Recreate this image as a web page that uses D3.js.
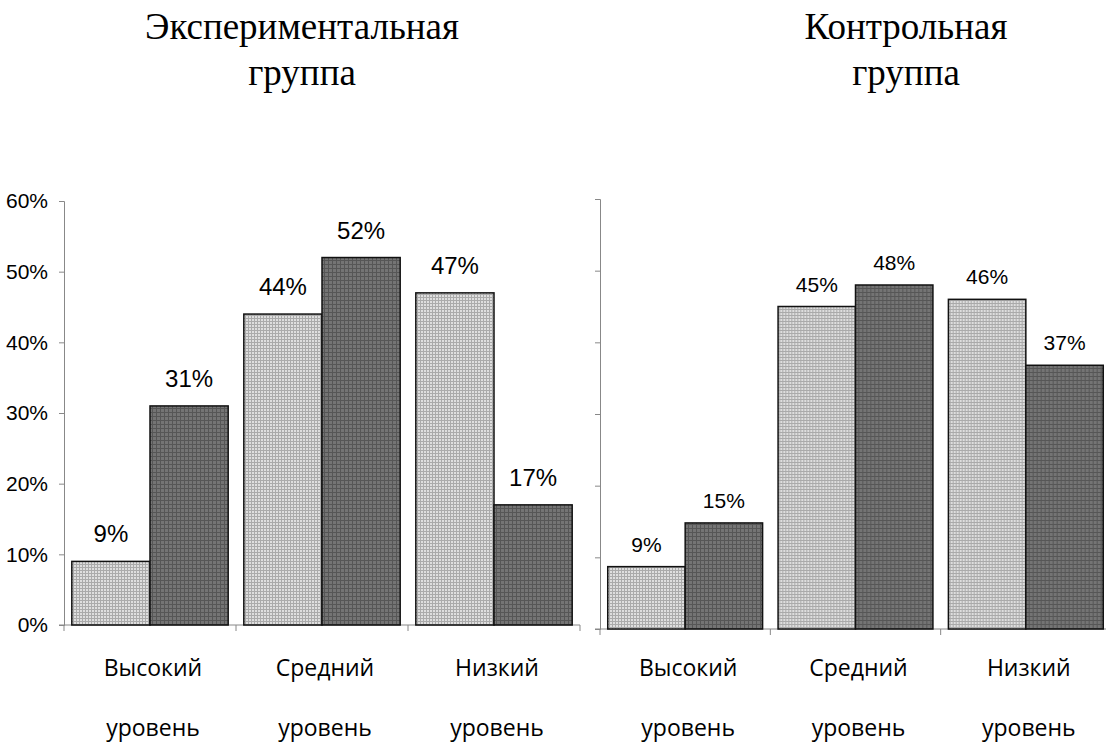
<!DOCTYPE html>
<html>
<head>
<meta charset="utf-8">
<script src="https://cdn.jsdelivr.net/npm/d3@7/dist/d3.min.js"></script>
<style>
  body { margin: 0; background: #fff; }
  .title { font-family: "Liberation Serif", "Times New Roman", serif; font-size: 37px; fill: #000; }
  .tick text { font-family: "Liberation Sans", Arial, sans-serif; font-size: 21px; fill: #000; }
  .cat { font-family: "Open Sans", sans-serif; font-size: 23px; fill: #000; }
  .val { font-family: "Liberation Sans", Arial, sans-serif; fill: #000; }
</style>
</head>
<body>
<script>
// Chart data
var categories = ["Высокий", "Средний", "Низкий"];
var series = ["before", "after"];
var expValues = [[9, 31], [44, 52], [47, 17]];
var ctrlValues = [[8.7, 14.8], [45, 48], [46, 36.8]];
var expLabels = [["9%", "31%"], ["44%", "52%"], ["47%", "17%"]];
var ctrlLabels = [["9%", "15%"], ["45%", "48%"], ["46%", "37%"]];
var yTicks = [0, 10, 20, 30, 40, 50, 60];

var width = 1106,
    height = 745;

var svg = d3.select("body")
    .append("svg")
    .attr("width", width)
    .attr("height", height);

// Fill patterns for the two series
var defs = svg.append("defs");
var light = defs.append("pattern")
    .attr("id", "light")
    .attr("width", 3).attr("height", 3)
    .attr("patternUnits", "userSpaceOnUse");
light.append("rect").attr("width", 3).attr("height", 3).attr("fill", "#dedede");
light.append("rect").attr("width", 1).attr("height", 3).attr("fill", "#aaaaaa");
light.append("rect").attr("width", 3).attr("height", 1).attr("fill", "#aaaaaa");

var dark = defs.append("pattern")
    .attr("id", "dark")
    .attr("width", 4).attr("height", 4)
    .attr("patternUnits", "userSpaceOnUse");
dark.append("rect").attr("width", 4).attr("height", 4).attr("fill", "#747474");
dark.append("rect").attr("width", 1).attr("height", 4).attr("fill", "#565656");
dark.append("rect").attr("width", 4).attr("height", 1).attr("fill", "#565656");

var fills = {before: "url(#light)", after: "url(#dark)"};

drawPanel({
  title: ["Экспериментальная", "группа"],
  titleX: 302,
  values: expValues,
  labels: expLabels,
  x0: 64, x1: 580,
  y0: 625, y1: 201,
  showTicks: true,
  labelSize: 24,
  labelGap: 19
});

drawPanel({
  title: ["Контрольная", "группа"],
  titleX: 906,
  values: ctrlValues,
  labels: ctrlLabels,
  x0: 600, x1: 1111,
  y0: 629, y1: 199,
  showTicks: false,
  labelSize: 21,
  labelGap: 15
});

function drawPanel(p) {
  var g = svg.append("g");

  // Title
  g.append("text").attr("class", "title")
      .attr("x", p.titleX).attr("y", 39)
      .attr("text-anchor", "middle").text(p.title[0]);
  g.append("text").attr("class", "title")
      .attr("x", p.titleX).attr("y", 85)
      .attr("text-anchor", "middle").text(p.title[1]);

  var y = d3.scaleLinear().domain([0, 60]).range([p.y0, p.y1]);
  var x = d3.scaleBand().domain(categories).range([p.x0, p.x1]);
  var xs = d3.scaleBand().domain(series).range([0, x.bandwidth()]).paddingOuter(0.1);

  // Y axis
  var yAxis = g.append("g")
      .attr("transform", "translate(" + p.x0 + ",0)")
      .call(d3.axisLeft(y).tickValues(yTicks).tickSize(5).tickPadding(11)
        .tickFormat(function(d){ return p.showTicks ? d + "%" : ""; }));
  yAxis.selectAll("path, line").attr("stroke", "#888");

  // X axis baseline with category ticks
  var boundaries = categories.map(function(c){ return x(c); }).concat([p.x1]);
  g.append("line")
      .attr("x1", p.x0 - 5).attr("x2", p.x1)
      .attr("y1", y(0)).attr("y2", y(0))
      .attr("stroke", "#888");
  g.selectAll(".xtick")
      .data(boundaries)
      .enter()
      .append("line")
      .attr("x1", function(d){ return d; }).attr("x2", function(d){ return d; })
      .attr("y1", y(0)).attr("y2", y(0) + 6)
      .attr("stroke", "#888");

  // Bars
  var groups = g.selectAll(".cat-group")
      .data(categories)
      .enter()
      .append("g")
      .attr("transform", function(c){ return "translate(" + x(c) + ",0)"; });

  groups.selectAll("rect")
      .data(function(c, i){
        return series.map(function(s, j){ return {s: s, v: p.values[i][j], l: p.labels[i][j]}; });
      })
      .enter()
      .append("rect")
      .attr("x", function(d){ return xs(d.s); })
      .attr("y", function(d){ return y(d.v); })
      .attr("width", xs.bandwidth())
      .attr("height", function(d){ return y(0) - y(d.v); })
      .attr("fill", function(d){ return fills[d.s]; })
      .attr("stroke", "#111")
      .attr("stroke-width", 1.5);

  groups.selectAll(".val")
      .data(function(c, i){
        return series.map(function(s, j){ return {s: s, v: p.values[i][j], l: p.labels[i][j]}; });
      })
      .enter()
      .append("text")
      .attr("class", "val")
      .attr("font-size", p.labelSize)
      .attr("text-anchor", "middle")
      .attr("x", function(d){ return xs(d.s) + xs.bandwidth() / 2; })
      .attr("y", function(d){ return y(d.v) - p.labelGap; })
      .text(function(d){ return d.l; });

  // Category labels
  groups.append("text").attr("class", "cat")
      .attr("text-anchor", "middle")
      .attr("x", x.bandwidth() / 2 + 3).attr("y", 676)
      .text(function(c){ return c; });
  groups.append("text").attr("class", "cat")
      .attr("text-anchor", "middle")
      .attr("x", x.bandwidth() / 2 + 3).attr("y", 736)
      .text("уровень");
}
</script>
</body>
</html>
